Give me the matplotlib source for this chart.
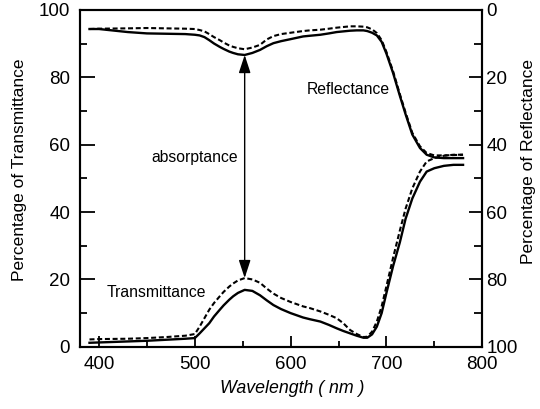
import matplotlib.pyplot as plt
from matplotlib.ticker import MultipleLocator

plt.rcParams['font.family'] = ['Liberation Sans', 'DejaVu Sans']

# wavelengths (nm) shared by all four curves
wl = [390, 400, 430, 450, 470, 490, 500, 505, 510, 515, 520, 526, 530, 536, 540, 545,
      552, 560, 568, 575, 582, 590, 600, 613, 620, 631, 640, 648, 655, 662, 669, 676,
      680, 685, 690, 695, 700, 707, 714, 720, 727, 735, 742, 750, 760, 770, 780]

# transmittance (left axis, %)
trans_solid = [1.2, 1.3, 1.6, 1.8, 2.1, 2.4, 2.6, 4, 5.5, 7, 9, 11, 12.3, 14, 15, 16,
               16.9, 16.6, 15.3, 13.8, 12.4, 11.2, 10, 8.7, 8.2, 7.5, 6.5, 5.5, 4.7, 4, 3.3, 2.7,
               2.7, 3.7, 6, 10, 16, 24, 31, 38, 44, 49, 52, 53, 53.7, 54, 54]
trans_dash = [2.2, 2.3, 2.4, 2.6, 2.9, 3.3, 3.8, 6, 8.5, 11, 13, 15, 16.3, 17.9, 18.8, 19.7,
              20.4, 20.0, 19.0, 17.3, 15.8, 14.5, 13.3, 12, 11.5, 10.5, 9.5, 8.5, 7, 5, 3.8, 2.9,
              3, 4.5, 7.5, 12, 18, 26.5, 34.5, 41, 47, 52, 55, 56, 56.7, 57, 57]

# reflectance (right axis, %, axis reversed)
refl_solid = [5.7, 5.7, 6.6, 7.0, 7.1, 7.2, 7.4, 7.6, 8.1, 9, 10, 11, 11.6, 12.4, 12.8, 13.2,
              13.4, 12.8, 11.9, 10.8, 9.9, 9.3, 8.7, 7.9, 7.7, 7.4, 7, 6.6, 6.4, 6.2, 6.1, 6.1,
              6.3, 6.8, 7.6, 9.5, 13, 18.8, 25.5, 31, 37, 41, 43, 43.8, 44, 44, 44]
refl_dash = [5.7, 5.6, 5.5, 5.4, 5.5, 5.6, 5.7, 6, 6.4, 7.2, 8.1, 9, 9.7, 10.6, 11, 11.4,
             11.7, 11.2, 10.4, 8.8, 7.8, 7.2, 6.8, 6.3, 6.1, 5.9, 5.6, 5.3, 5.1, 4.9, 4.9, 5.0,
             5.2, 5.8, 6.9, 9, 12.5, 18.3, 25, 30.5, 36.5, 40.5, 42.5, 43.2, 43.2, 43.1, 43]

fig = plt.figure(figsize=(5.4, 4.09), dpi=100)
ax = fig.add_axes([0.148, 0.152, 0.745, 0.824])
ax2 = ax.twinx()

ax.plot(wl, trans_solid, '-', color='black', lw=1.7)
ax.plot(wl, trans_dash, '--', color='black', lw=1.5, dashes=(2.4, 1.3))
ax2.plot(wl, refl_solid, '-', color='black', lw=1.7)
ax2.plot(wl, refl_dash, '--', color='black', lw=1.5, dashes=(2.4, 1.3))

ax.set_xlim(380, 800)
ax.set_ylim(0, 100)
ax2.set_ylim(100, 0)

ax.xaxis.set_major_locator(MultipleLocator(100))
ax.xaxis.set_minor_locator(MultipleLocator(50))
ax.yaxis.set_major_locator(MultipleLocator(20))
ax.yaxis.set_minor_locator(MultipleLocator(10))
ax2.yaxis.set_major_locator(MultipleLocator(20))
ax2.yaxis.set_minor_locator(MultipleLocator(10))

ax.tick_params(which='both', direction='in', width=1.3, labelsize=13.5, top=False)
ax.tick_params(axis='y', which='major', length=10.5, pad=7)
ax.tick_params(axis='y', which='minor', length=5)
ax.tick_params(axis='x', which='major', length=8, pad=6.5)
ax.tick_params(axis='x', which='minor', length=4)
ax2.tick_params(which='both', direction='in', width=1.3, labelsize=13.5)
ax2.tick_params(which='major', length=9.5, pad=3)
ax2.tick_params(which='minor', length=5.5)

for a in (ax, ax2):
    for s in a.spines.values():
        s.set_linewidth(1.5)

fig.text(0.541, 0.051, 'Wavelength ( nm )', fontsize=12.8, style='italic',
         ha='center', va='center')
fig.text(0.037, 0.584, 'Percentage of Transmittance', fontsize=12.5,
         rotation=90, ha='center', va='center')
fig.text(0.978, 0.606, 'Percentage of Reflectance', fontsize=12.5,
         rotation=90, ha='center', va='center')

# absorptance arrow between the curves at the peak
ax.annotate('', xy=(552, 100 - refl_solid[16]), xytext=(552, trans_dash[16]),
            arrowprops=dict(arrowstyle='<|-|>,head_length=0.55,head_width=0.18',
                            color='black', lw=1.0, mutation_scale=20,
                            shrinkA=0, shrinkB=0))
ax.text(545, 56.1, 'absorptance', fontsize=11.3, ha='right', va='center')
ax.text(704, 76.3, 'Reflectance', fontsize=11.3, ha='right', va='center')
ax.text(407.7, 16.1, 'Transmittance', fontsize=11.3, ha='left', va='center')

fig.savefig('out.png', dpi=100)
